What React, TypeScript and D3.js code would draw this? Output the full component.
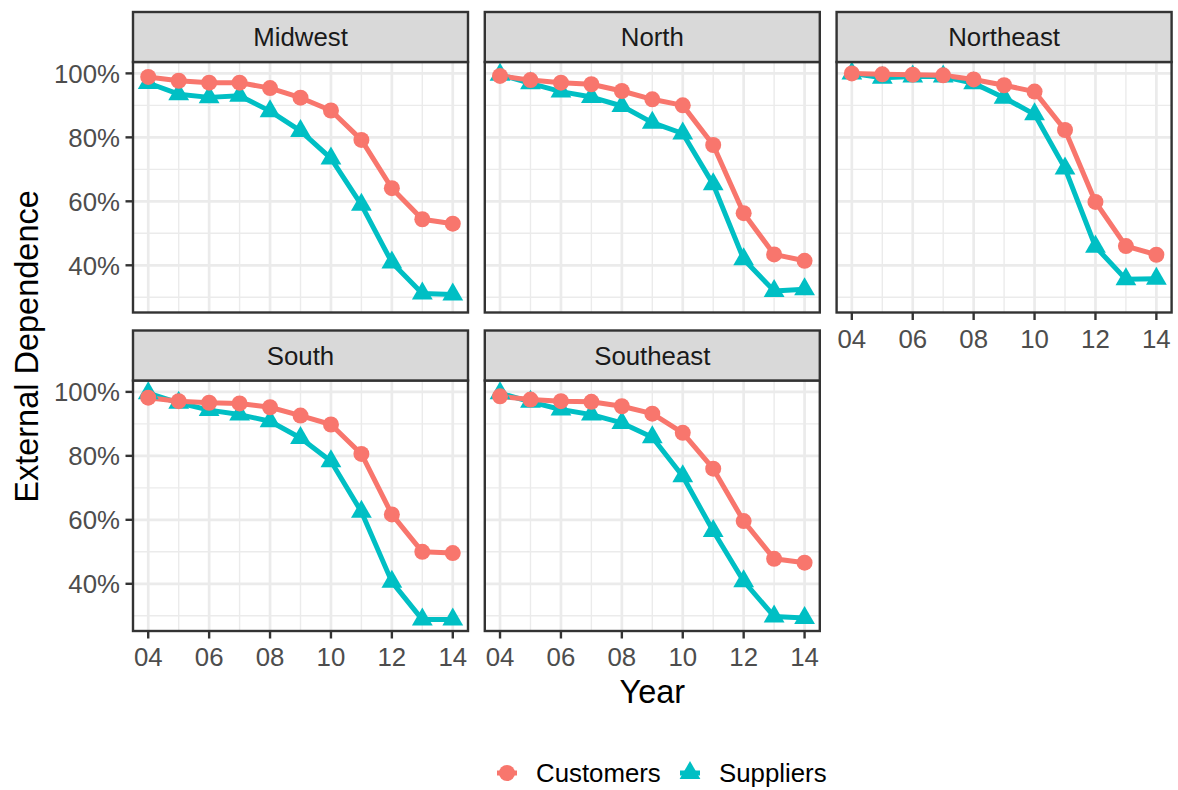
import React from "react";
import * as d3 from "d3";

const years = [2004, 2005, 2006, 2007, 2008, 2009, 2010, 2011, 2012, 2013, 2014];
const xTickYears = [2004, 2006, 2008, 2010, 2012, 2014];
const xMinorYears = [2005, 2007, 2009, 2011, 2013];
const yTicks = [40, 60, 80, 100];
const yMinor = [30, 50, 70, 90];
const regions = ["Midwest", "North", "Northeast", "South", "Southeast"];
const seriesNames = ["Customers", "Suppliers"];

const midwestCustomers = [98.9, 97.7, 97.1, 97.1, 95.4, 92.4, 88.4, 79.2, 64.1, 54.4, 53.0];
const midwestSuppliers = [97.0, 93.5, 92.5, 93.0, 88.2, 82.0, 73.4, 58.9, 40.9, 31.2, 30.9];
const northCustomers = [99.2, 97.9, 97.1, 96.6, 94.5, 91.9, 90.0, 77.6, 56.3, 43.4, 41.4];
const northSuppliers = [99.6, 96.9, 94.3, 92.6, 89.8, 84.6, 81.2, 65.3, 41.9, 32.0, 32.5];
const northeastCustomers = [100, 99.7, 99.6, 99.4, 98.1, 96.3, 94.3, 82.3, 59.8, 46.0, 43.3];
const northeastSuppliers = [100, 98.6, 99.0, 99.0, 96.9, 92.4, 87.2, 70.3, 45.8, 35.6, 35.8];
const southCustomers = [98.2, 97.1, 96.6, 96.4, 95.2, 92.6, 89.8, 80.6, 61.7, 50.0, 49.6];
const southSuppliers = [99.6, 96.6, 94.3, 92.9, 90.8, 85.6, 78.3, 62.5, 40.6, 28.8, 28.8];
const southeastCustomers = [98.6, 97.6, 97.1, 96.9, 95.5, 93.2, 87.2, 76.0, 59.6, 47.8, 46.6];
const southeastSuppliers = [99.6, 96.9, 94.5, 92.9, 90.3, 85.8, 73.6, 56.5, 40.8, 29.8, 29.3];

const regionData: Record<string, number[][]> = {
  Midwest: [midwestCustomers, midwestSuppliers],
  North: [northCustomers, northSuppliers],
  Northeast: [northeastCustomers, northeastSuppliers],
  South: [southCustomers, southSuppliers],
  Southeast: [southeastCustomers, southeastSuppliers],
};

const COLORS = ["#F8766D", "#00BFC4"];
const FONT = "'Liberation Sans', Arial, Helvetica, sans-serif";
const SMALL = 25.8;
const TITLE = 32.5;

const W = 1178;
const H = 790;
const left0 = 133;
const panelW = 335;
const hGap = 16.8;
const top0 = 12;
const stripH = 50;
const panelH = 250.5;
const vGap = 18;

const allVals = Object.values(regionData).flat(2);
const [vmin, vmax] = d3.extent(allVals) as [number, number];
const vpad = (vmax - vmin) * 0.05;

const triR = 12;
const circR = 8;
const lineW = 5;
const triPath = (cx: number, cy: number, r: number) => {
  const h = (r * Math.sqrt(3)) / 2;
  return `M${cx},${cy - r}L${cx + h},${cy + r / 2}L${cx - h},${cy + r / 2}Z`;
};

function Panel({ region, col, row, showY, showX }: any) {
  const px = left0 + col * (panelW + hGap);
  const sy = top0 + row * (stripH + panelH + vGap);
  const py = sy + stripH;
  const x = d3.scaleLinear().domain([2003.5, 2014.5]).range([px, px + panelW]);
  const y = d3.scaleLinear().domain([vmin - vpad, vmax + vpad]).range([py + panelH, py]);
  const data = regionData[region];
  const line = d3
    .line<number>()
    .x((_, i) => x(years[i]))
    .y((d) => y(d));
  const order = [1, 0];
  return (
    <g>
      <rect x={px} y={py} width={panelW} height={panelH} fill="#FFFFFF" />
      {yMinor.map((v) => (
        <line key={"ym" + v} x1={px} x2={px + panelW} y1={y(v)} y2={y(v)} stroke="#EBEBEB" strokeWidth={1.4} />
      ))}
      {xMinorYears.map((v) => (
        <line key={"xm" + v} y1={py} y2={py + panelH} x1={x(v)} x2={x(v)} stroke="#EBEBEB" strokeWidth={1.4} />
      ))}
      {yTicks.map((v) => (
        <line key={"yM" + v} x1={px} x2={px + panelW} y1={y(v)} y2={y(v)} stroke="#EBEBEB" strokeWidth={2.7} />
      ))}
      {xTickYears.map((v) => (
        <line key={"xM" + v} y1={py} y2={py + panelH} x1={x(v)} x2={x(v)} stroke="#EBEBEB" strokeWidth={2.7} />
      ))}
      {order.map((s) => (
        <path key={"l" + s} d={line(data[s]) || ""} fill="none" stroke={COLORS[s]} strokeWidth={lineW} strokeLinejoin="round" />
      ))}
      {order.map((s) =>
        data[s].map((v, i) =>
          s === 0 ? (
            <circle key={"p" + s + i} cx={x(years[i])} cy={y(v)} r={circR} fill={COLORS[s]} />
          ) : (
            <path key={"p" + s + i} d={triPath(x(years[i]), y(v), triR)} fill={COLORS[s]} />
          )
        )
      )}
      <rect x={px} y={py} width={panelW} height={panelH} fill="none" stroke="#333333" strokeWidth={2.4} />
      <rect x={px} y={sy} width={panelW} height={stripH} fill="#D9D9D9" stroke="#333333" strokeWidth={2.4} />
      <text x={px + panelW / 2} y={sy + stripH / 2} dy="0.36em" textAnchor="middle" fontSize={SMALL} fill="#1A1A1A" fontFamily={FONT}>
        {region}
      </text>
      {showY &&
        yTicks.map((v) => (
          <g key={"yt" + v}>
            <line x1={px - 7.5} x2={px} y1={y(v)} y2={y(v)} stroke="#333333" strokeWidth={2.4} />
            <text x={px - 13} y={y(v)} dy="0.36em" textAnchor="end" fontSize={SMALL} fill="#4D4D4D" fontFamily={FONT}>
              {v + "%"}
            </text>
          </g>
        ))}
      {showX &&
        xTickYears.map((v) => (
          <g key={"xt" + v}>
            <line x1={x(v)} x2={x(v)} y1={py + panelH} y2={py + panelH + 7.5} stroke="#333333" strokeWidth={2.4} />
            <text x={x(v)} y={py + panelH + 35} textAnchor="middle" fontSize={SMALL} fill="#4D4D4D" fontFamily={FONT}>
              {String(v % 100).padStart(2, "0")}
            </text>
          </g>
        ))}
    </g>
  );
}

export default function App() {
  const layout = [
    { region: regions[0], col: 0, row: 0, showY: true, showX: false },
    { region: regions[1], col: 1, row: 0, showY: false, showX: false },
    { region: regions[2], col: 2, row: 0, showY: false, showX: true },
    { region: regions[3], col: 0, row: 1, showY: true, showX: true },
    { region: regions[4], col: 1, row: 1, showY: false, showX: true },
  ];
  const row2Bottom = top0 + 2 * (stripH + panelH) + vGap;
  const totalRight = left0 + 3 * panelW + 2 * hGap;
  const legendY = 773;
  const legendItems = [
    { name: seriesNames[0], kx: 507, tx: 536 },
    { name: seriesNames[1], kx: 690, tx: 719 },
  ];
  return (
    <svg width={W} height={H} style={{ position: "absolute", left: 0, top: 0, background: "#fff" }}>
      <rect x={0} y={0} width={W} height={H} fill="#FFFFFF" />
      {layout.map((p) => (
        <Panel key={p.region} {...p} />
      ))}
      <text x={(left0 + totalRight) / 2} y={703} textAnchor="middle" fontSize={TITLE} fill="#000" fontFamily={FONT}>
        Year
      </text>
      <text
        transform={`translate(38, ${(top0 + stripH + row2Bottom) / 2}) rotate(-90)`}
        textAnchor="middle"
        fontSize={TITLE}
        fill="#000"
        fontFamily={FONT}
      >
        External Dependence
      </text>
      {legendItems.map((it, s) => (
        <g key={it.name}>
          <line x1={it.kx - 10} x2={it.kx + 10} y1={legendY} y2={legendY} stroke={COLORS[s]} strokeWidth={lineW} />
          {s === 0 ? (
            <circle cx={it.kx} cy={legendY} r={circR} fill={COLORS[s]} />
          ) : (
            <path d={triPath(it.kx, legendY, triR)} fill={COLORS[s]} />
          )}
          <text x={it.tx} y={legendY} dy="0.36em" fontSize={SMALL} fill="#000" fontFamily={FONT}>
            {it.name}
          </text>
        </g>
      ))}
    </svg>
  );
}
